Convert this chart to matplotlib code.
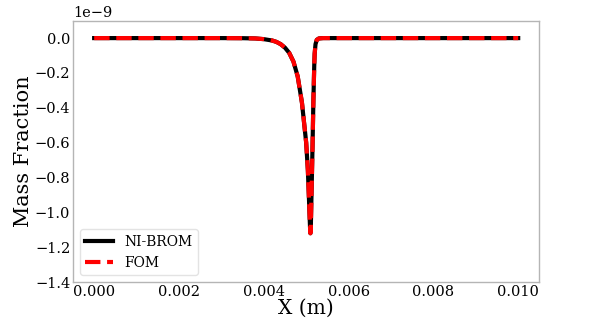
import matplotlib
matplotlib.use("Agg")
import matplotlib.pyplot as plt
import numpy as np

# Data (y in units of 1e-9)
x_vals = [0.0, 0.001, 0.002, 0.003, 0.0035, 0.0038, 0.0040, 0.0042, 0.0043, 0.0044,
          0.0045, 0.0046, 0.0047, 0.0048, 0.0049, 0.0050, 0.00504, 0.00507, 0.00509,
          0.0051, 0.00511, 0.00513, 0.00515, 0.00517, 0.00519, 0.0052, 0.00522,
          0.00525, 0.0053, 0.0054, 0.006, 0.008, 0.01]
y_scaled = [0.0, 0.0, 0.0, 0.0, -0.0005, -0.002, -0.006, -0.014, -0.022, -0.035,
            -0.055, -0.085, -0.135, -0.22, -0.37, -0.60, -0.76, -0.95, -1.08,
            -1.12, -1.08, -0.85, -0.62, -0.36, -0.16, -0.09, -0.035,
            -0.01, -0.002, 0.0, 0.0, 0.0, 0.0]
y_rom = np.array(y_scaled) * 1e-9
y_fom = np.array(y_scaled) * 1e-9

plt.rcParams['font.family'] = ['DejaVu Serif']

fig = plt.figure(figsize=(5.98, 3.18), dpi=100)
ax = fig.add_axes([0.122, 0.113, 0.780, 0.822])

ax.plot(x_vals, y_rom, color='black', lw=3, label='NI-BROM', solid_joinstyle='round')
ax.plot(x_vals, y_fom, color='red', lw=3, ls='--', label='FOM', dash_joinstyle='round')

ax.set_ylim(-1.4e-9, 0.1e-9)
ax.set_xticks([0.0, 0.002, 0.004, 0.006, 0.008, 0.010])
ax.set_yticks(np.arange(-1.4, 0.01, 0.2) * 1e-9)
ax.tick_params(length=0, labelsize=10.5, pad=2)
ax.yaxis.get_offset_text().set_fontsize(10.5)
for s in ax.spines.values():
    s.set_color('#b5b5b5')
    s.set_linewidth(1.0)

ax.set_xlabel('X (m)', fontsize=14.5, labelpad=0)
ax.set_ylabel('Mass Fraction', fontsize=15, labelpad=1)
ax.legend(loc='lower left', fontsize=10, framealpha=0.8, edgecolor='#dddddd',
          borderaxespad=0.5)

fig.savefig('out.png', dpi=100)
